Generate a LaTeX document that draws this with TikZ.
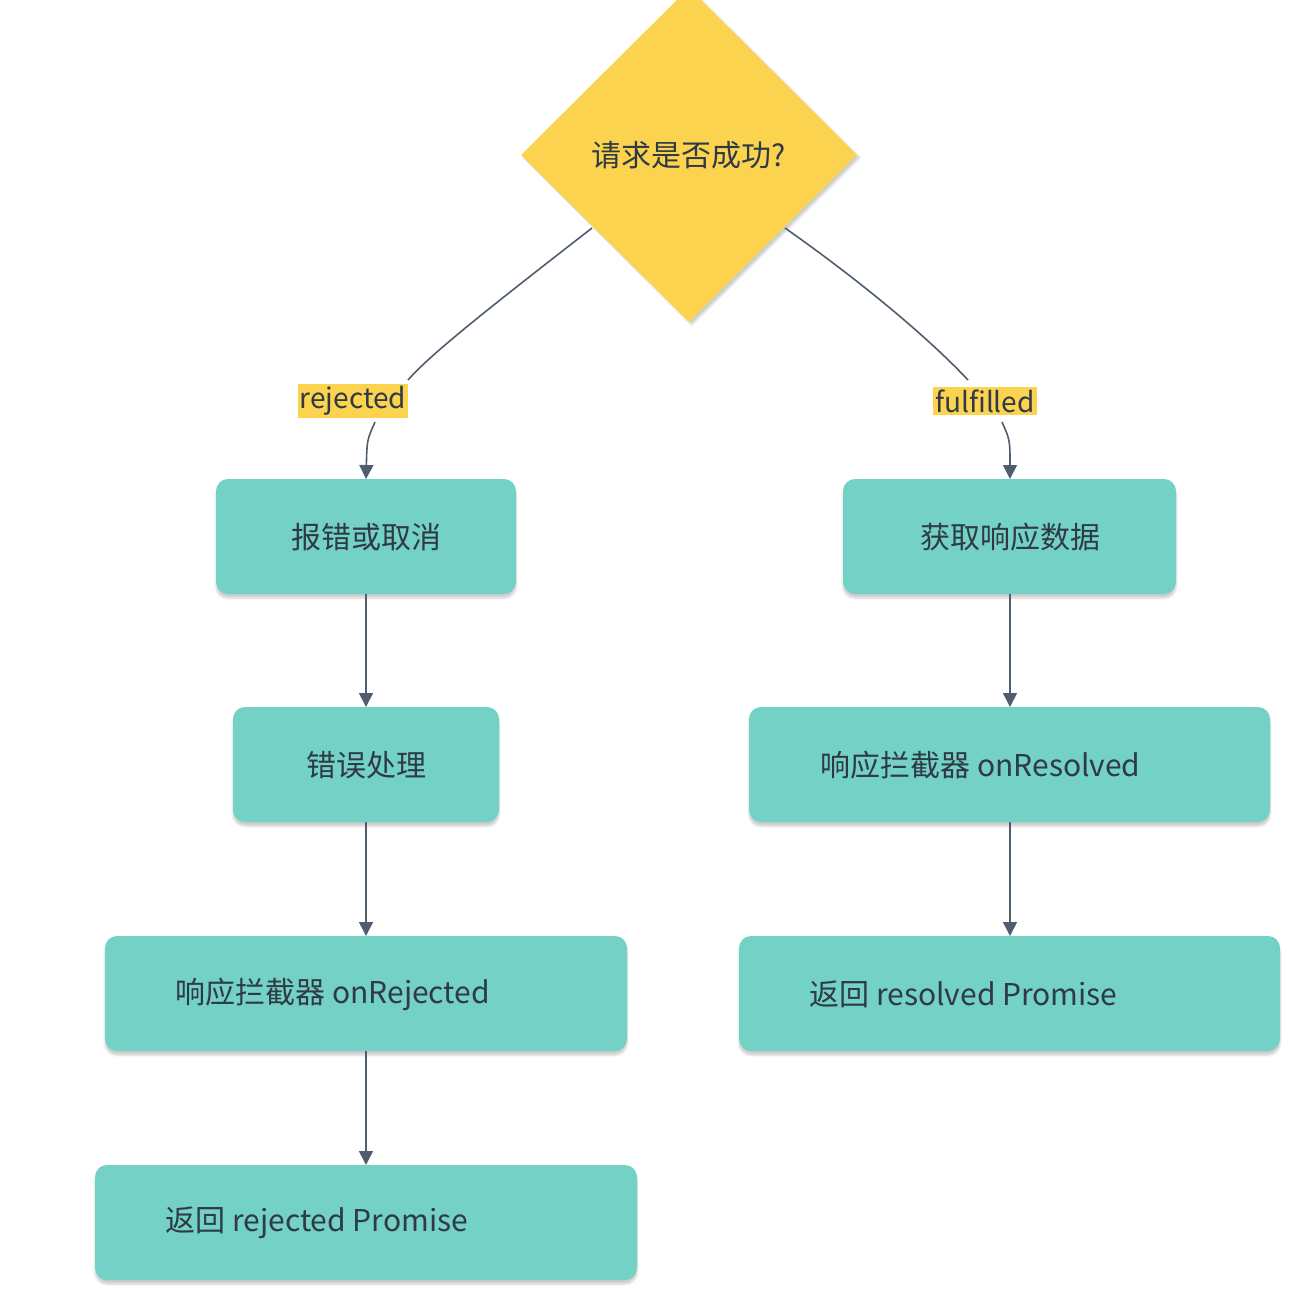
\documentclass[tikz,border=0pt]{standalone}
\usepackage{fontspec}
\setmainfont{Noto Sans CJK SC}
\usetikzlibrary{arrows.meta,shadows.blur}
\definecolor{teal}{HTML}{73D1C6}
\definecolor{yel}{HTML}{FBD34F}
\definecolor{edge}{HTML}{4F5D6E}
\definecolor{txt}{HTML}{2F3A45}
\begin{document}
\begin{tikzpicture}[x=1pt,y=-1pt,
  box/.style={fill=teal,rounded corners=12pt,blur shadow={shadow blur steps=6,shadow xshift=0pt,shadow yshift=-4pt,shadow opacity=20}},
  t/.style={text=txt,font=\fontsize{30}{30}\selectfont,anchor=west},
  lab/.style={fill=yel,text=txt,font=\fontsize{28}{28}\selectfont,inner sep=2pt},
  e/.style={draw=edge,line width=1.6pt},
  a/.style={e,-{Triangle[length=14pt,width=14pt]}}]
\useasboundingbox (0,0) rectangle (1310,1289);
\fill[yel,blur shadow={shadow blur steps=6,shadow opacity=20}] (689,-12) -- (857,155) -- (689,322) -- (521,155) -- cycle;
\node[text=txt,font=\fontsize{30}{30}\selectfont] (q) at (689,155) {请求是否成功?};
\coordinate (dl) at (592,228);
\coordinate (dr) at (785,228);
% boxes
\path[box] (216,479) rectangle (516,594); \node[t,anchor=center] (A) at (366,537) {报错或取消};
\path[box] (233,707) rectangle (499,822); \node[t,anchor=center] (B) at (366,765) {错误处理};
\path[box] (105,936) rectangle (627,1051); \node[t] (C) at (172,994) {响应拦截器 onRejected};
\path[box] (95,1165) rectangle (637,1280); \node[t] (D) at (162,1223) {返回 rejected Promise};
\path[box] (843,479) rectangle (1176,594); \node[t,anchor=center] (E) at (1010,537) {获取响应数据};
\path[box] (749,707) rectangle (1270,822); \node[t] (F) at (817,765) {响应拦截器 onResolved};
\path[box] (739,936) rectangle (1280,1051); \node[t] (G) at (806,994) {返回 resolved Promise};
\coordinate (At) at (366,479); \coordinate (Ab) at (366,594);
\coordinate (Bt) at (366,707); \coordinate (Bb) at (366,822);
\coordinate (Ct) at (366,936); \coordinate (Cb) at (366,1051);
\coordinate (Dt) at (366,1165);
\coordinate (Et) at (1010,479); \coordinate (Eb) at (1010,594);
\coordinate (Ft) at (1010,707); \coordinate (Fb) at (1010,822);
\coordinate (Gt) at (1010,936);
% labelled edges
\coordinate (l1) at (408,380); \coordinate (l2) at (375,422);
\coordinate (r1) at (968,380); \coordinate (r2) at (1002,422);
\draw[e] (dl) .. controls (480,315) and (430,355) .. (l1);
\draw[a] (l2) .. controls (367,440) .. (At);
\draw[e] (dr) .. controls (880,295) and (940,350) .. (r1);
\draw[a] (r2) .. controls (1010,440) .. (Et);
\node[lab] (rej) at (353,401) {rejected};
\node[lab] (ful) at (985,401) {fulfilled};
\draw[a] (Ab) -- (Bt); \draw[a] (Bb) -- (Ct); \draw[a] (Cb) -- (Dt);
\draw[a] (Eb) -- (Ft); \draw[a] (Fb) -- (Gt);
\end{tikzpicture}
\end{document}
